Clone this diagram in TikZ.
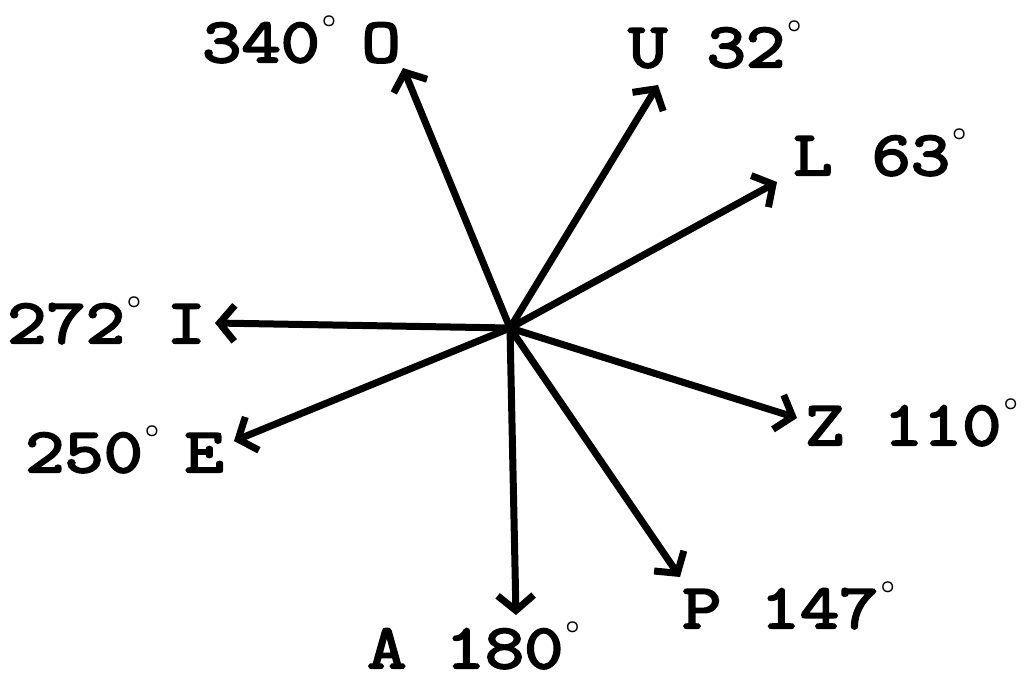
\documentclass[tikz,border=0pt]{standalone}
\usepackage{fontspec}
\newfontfamily\cour{Latin Modern Mono}[FakeBold=3.5,FakeStretch=1.21]
\usetikzlibrary{arrows.meta}
\newcommand{\dg}{\hspace{2pt}\raisebox{35pt}{\fontsize{34}{34}\selectfont\boldmath$\circ$}}
\begin{document}
\begin{tikzpicture}[x=1pt,y=-1pt,
  ray/.style={line width=7pt,-{Straight Barb[length=15pt,width=36pt]}},
  lbl/.style={anchor=base west,inner sep=0pt,font=\cour\fontsize{63}{63}\selectfont}]
\useasboundingbox (0,0) rectangle (1028,681);
\coordinate (c) at (510,328);
\coordinate (tO) at (403,68);
\coordinate (tU) at (658,85);
\coordinate (tL) at (777,182);
\coordinate (tI) at (215,323);
\coordinate (tE) at (234,441);
\coordinate (tZ) at (797,418);
\coordinate (tP) at (680,577);
\coordinate (tA) at (516,615);
\foreach \t in {tO,tU,tL,tI,tE,tZ,tP,tA} \draw[ray] (c) -- (\t);
\node[lbl] (lO) at (202,62) {340\dg\hspace{-14pt} O};
\node[lbl] (lU) at (628,67) {U 32\dg};
\node[lbl] (lL) at (793,175) {L 63\dg};
\node[lbl] (lI) at (7,343) {272\dg\hspace{-14pt} I};
\node[lbl] (lE) at (25,472) {250\dg\hspace{-14pt} E};
\node[lbl] (lZ) at (805,445) {Z 110\dg};
\node[lbl] (lP) at (682,628) {P 147\dg};
\node[lbl] (lA) at (367,668) {A 180\dg};
\end{tikzpicture}
\end{document}
